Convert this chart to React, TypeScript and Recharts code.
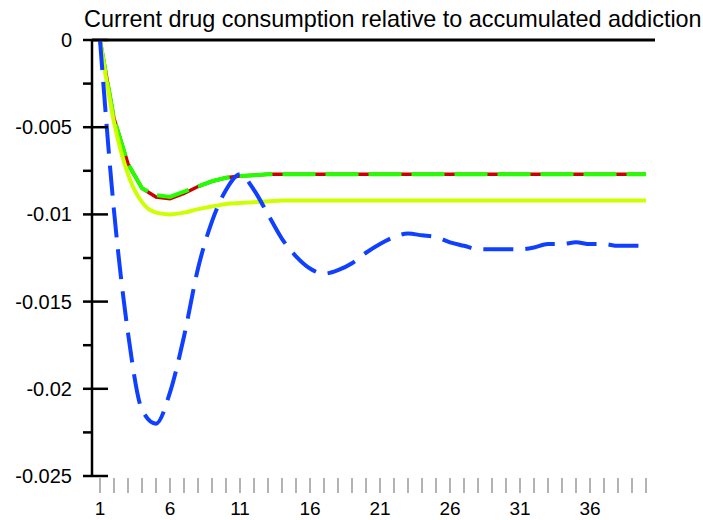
import React from 'react';
import { LineChart, Line, XAxis, YAxis, ReferenceLine } from 'recharts';

const periods = Array.from({ length: 40 }, (_, i) => i + 1);
const redSeries = [0, -0.0045, -0.0071, -0.0085, -0.0090, -0.0091, -0.0088, -0.0084, -0.0081, -0.0079, -0.0078, -0.00775, -0.0077, -0.0077, -0.0077, -0.0077, -0.0077, -0.0077, -0.0077, -0.0077, -0.0077, -0.0077, -0.0077, -0.0077, -0.0077, -0.0077, -0.0077, -0.0077, -0.0077, -0.0077, -0.0077, -0.0077, -0.0077, -0.0077, -0.0077, -0.0077, -0.0077, -0.0077, -0.0077, -0.0077];
const greenSeries = [0, -0.0045, -0.0071, -0.0085, -0.0089, -0.0090, -0.0087, -0.0084, -0.0081, -0.0079, -0.0078, -0.00775, -0.0077, -0.0077, -0.0077, -0.0077, -0.0077, -0.0077, -0.0077, -0.0077, -0.0077, -0.0077, -0.0077, -0.0077, -0.0077, -0.0077, -0.0077, -0.0077, -0.0077, -0.0077, -0.0077, -0.0077, -0.0077, -0.0077, -0.0077, -0.0077, -0.0077, -0.0077, -0.0077, -0.0077];
const yellowSeries = [0, -0.0047, -0.0077, -0.0093, -0.0099, -0.0100, -0.0099, -0.0097, -0.00955, -0.0094, -0.00935, -0.0093, -0.00925, -0.0092, -0.0092, -0.0092, -0.0092, -0.0092, -0.0092, -0.0092, -0.0092, -0.0092, -0.0092, -0.0092, -0.0092, -0.0092, -0.0092, -0.0092, -0.0092, -0.0092, -0.0092, -0.0092, -0.0092, -0.0092, -0.0092, -0.0092, -0.0092, -0.0092, -0.0092, -0.0092];
const blueSeries = [0, -0.0098, -0.0168, -0.0212, -0.0220, -0.0202, -0.0170, -0.0131, -0.0104, -0.0086, -0.0077, -0.0086, -0.0100, -0.0114, -0.0124, -0.0131, -0.0134, -0.0132, -0.0128, -0.0122, -0.0117, -0.0113, -0.0111, -0.0112, -0.0113, -0.0116, -0.0118, -0.0120, -0.0120, -0.0120, -0.0120, -0.0119, -0.0117, -0.0117, -0.0116, -0.0117, -0.0117, -0.0118, -0.0118, -0.0118];

const yTicks = [0, -0.0025, -0.005, -0.0075, -0.01, -0.0125, -0.015, -0.0175, -0.02, -0.0225, -0.025];
const yLabels: Record<string, string> = { '0': '0', '-0.005': '-0.005', '-0.01': '-0.01', '-0.015': '-0.015', '-0.02': '-0.02', '-0.025': '-0.025' };
const xLabelPeriods = [1, 6, 11, 16, 21, 26, 31, 36];
const title = 'Current drug consumption relative to accumulated addiction';

const data = periods.map((p, i) => ({
  period: p,
  red: redSeries[i],
  green: greenSeries[i],
  yellow: yellowSeries[i],
  blue: blueSeries[i],
}));

const FONT = 'Liberation Sans, Arial, sans-serif';

const YTick = (props: any) => {
  const { x, y, payload } = props;
  const key = String(payload.value);
  const label = yLabels[key];
  const major = label !== undefined;
  return (
    <g>
      <line x1={x - 9} x2={major ? x + 16 : x} y1={y} y2={y} stroke="#000" strokeWidth={2.5} />
      {major && (
        <text x={x - 20} y={y} dy="0.35em" textAnchor="end" fontSize={20} fontFamily={FONT} fill="#000">
          {label}
        </text>
      )}
    </g>
  );
};

const XTick = (props: any) => {
  const { x, y, payload } = props;
  const showLabel = xLabelPeriods.includes(payload.value);
  return (
    <g>
      <line x1={x} x2={x} y1={y + 2} y2={y + 17} stroke="#808080" strokeWidth={1.2} />
      {showLabel && (
        <text x={x} y={y + 32} dy="0.35em" textAnchor="middle" fontSize={19} fontFamily={FONT} fill="#000">
          {payload.value}
        </text>
      )}
    </g>
  );
};

export default function App() {
  return (
    <div style={{ position: 'absolute', left: 0, top: 0, width: 703, height: 520, background: '#fff' }}>
      <div
        style={{
          position: 'absolute',
          left: 84,
          top: 8,
          fontFamily: FONT,
          fontSize: 23.4,
          whiteSpace: 'nowrap',
          color: '#000',
          lineHeight: '23.4px',
        }}
      >
        {title}
      </div>
      <LineChart width={703} height={520} data={data} margin={{ top: 40, right: 48, bottom: 0, left: 0 }}>
        <XAxis
          dataKey="period"
          type="number"
          domain={[1, 40]}
          ticks={periods}
          interval={0}
          padding={{ left: 8, right: 9 }}
          axisLine={false}
          tickLine={false}
          tickSize={0}
          tickMargin={0}
          height={44}
          tick={<XTick />}
        />
        <YAxis
          type="number"
          domain={[-0.025, 0]}
          ticks={yTicks}
          interval={0}
          width={92}
          axisLine={{ stroke: '#000', strokeWidth: 2.5 }}
          tickLine={false}
          tickSize={0}
          tickMargin={0}
          tick={<YTick />}
        />
        <ReferenceLine y={0} stroke="#000" strokeWidth={3} />
        <Line dataKey="red" type="linear" stroke="#cc0000" strokeWidth={3.5} dot={false} isAnimationActive={false} />
        <Line dataKey="green" type="linear" stroke="#22ff00" strokeWidth={4} strokeDasharray="33 10" dot={false} isAnimationActive={false} />
        <Line dataKey="yellow" type="monotone" stroke="#ccff00" strokeWidth={4} dot={false} isAnimationActive={false} />
        <Line dataKey="blue" type="monotone" stroke="#1040ff" strokeWidth={4} strokeDasharray="30 12" dot={false} isAnimationActive={false} />
      </LineChart>
    </div>
  );
}
